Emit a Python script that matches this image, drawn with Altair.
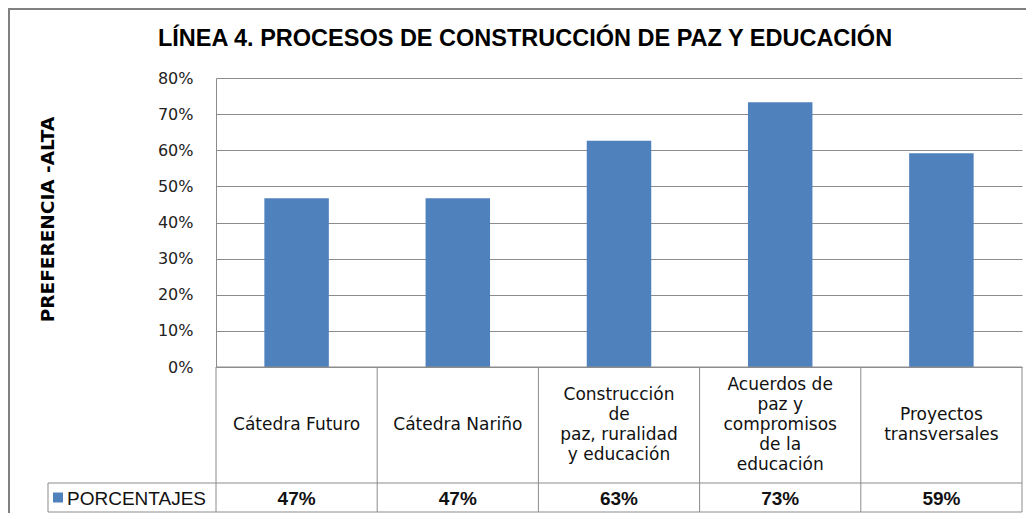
import altair as alt
import pandas as pd

# ---- data ----
categories = [
    "Cátedra Futuro",
    "Cátedra Nariño",
    "Construcción de paz, ruralidad y educación",
    "Acuerdos de paz y compromisos de la educación",
    "Proyectos transversales",
]
cell_labels = [
    "Cátedra Futuro",
    "Cátedra Nariño",
    "Construcción|de|paz, ruralidad|y educación",
    "Acuerdos de|paz y|compromisos|de la|educación",
    "Proyectos|transversales",
]
values = [0.467, 0.467, 0.626, 0.733, 0.592]
value_labels = ["47%", "47%", "63%", "73%", "59%"]
y_ticks = [0.0, 0.1, 0.2, 0.3, 0.4, 0.5, 0.6, 0.7, 0.8]
series_name = "PORCENTAJES"
chart_title = "LÍNEA 4. PROCESOS DE CONSTRUCCIÓN DE PAZ Y EDUCACIÓN"
y_title = "PREFERENCIA -ALTA"

df = pd.DataFrame({"cat": categories, "cell": cell_labels,
                   "value": values, "vlabel": value_labels})
df["nlines"] = [len(s.split("|")) for s in cell_labels]
one = pd.DataFrame({"name": [series_name], "title": [chart_title], "ytitle": [y_title]})

BLUE = "#4f81bd"
LINE = "#8c8c8c"
W, H = 806, 289
ROW1_BOTTOM = 405   # bottom of category row (plot coordinates)
ROW2_BOTTOM = 434   # bottom of value row
LEFT_CELL = -168    # left edge of the legend cell
LH = 20             # line height of the category labels

xenc = alt.X("cat:N", sort=categories,
             scale=alt.Scale(paddingInner=0, paddingOuter=0), axis=None)

bars = alt.Chart(df).mark_bar(color=BLUE, width=alt.RelativeBandSize(0.4)).encode(
    x=xenc,
    y=alt.Y("value:Q", scale=alt.Scale(domain=[0, 0.8], nice=False),
            axis=alt.Axis(values=y_ticks, format=".0%", grid=True,
                          gridColor=LINE, gridWidth=1, domain=True,
                          domainColor=LINE, ticks=False, labelPadding=23,
                          labelFont="DejaVu Sans", labelFontSize=16,
                          labelColor="#222222", title=None)),
)

# vertical cell dividers at band starts
vrules = alt.Chart(df).mark_rule(color=LINE, strokeWidth=1).encode(
    x=alt.X("cat:N", sort=categories, bandPosition=0,
            scale=alt.Scale(paddingInner=0, paddingOuter=0), axis=None),
    y=alt.value(H), y2=alt.value(ROW2_BOTTOM),
)
right_rule = alt.Chart(one).mark_rule(color=LINE, strokeWidth=1).encode(
    x=alt.value(W), y=alt.value(H), y2=alt.value(ROW2_BOTTOM))
top_rule = alt.Chart(one).mark_rule(color=LINE, strokeWidth=1).encode(
    x=alt.value(0), x2=alt.value(W), y=alt.value(H))
mid_rule = alt.Chart(one).mark_rule(color=LINE, strokeWidth=1).encode(
    x=alt.value(LEFT_CELL), x2=alt.value(W), y=alt.value(ROW1_BOTTOM))
bot_rule = alt.Chart(one).mark_rule(color=LINE, strokeWidth=1).encode(
    x=alt.value(LEFT_CELL), x2=alt.value(W), y=alt.value(ROW2_BOTTOM))
left_rule = alt.Chart(one).mark_rule(color=LINE, strokeWidth=1).encode(
    x=alt.value(LEFT_CELL), y=alt.value(ROW1_BOTTOM), y2=alt.value(ROW2_BOTTOM))

# category labels, vertically centred in their cell (one layer per line count)
cat_layers = []
for n in sorted(set(df["nlines"])):
    cat_layers.append(
        alt.Chart(df).transform_filter(alt.datum.nlines == n).mark_text(
            lineBreak="|", align="center", baseline="middle", font="DejaVu Sans",
            fontSize=17, lineHeight=LH, color="#111111", dy=-(n - 1) * LH / 2,
        ).encode(x=xenc, y=alt.value((H + ROW1_BOTTOM) / 2), text="cell:N")
    )

val_text = alt.Chart(df).mark_text(
    align="center", baseline="middle", font="Liberation Sans",
    fontSize=19, fontWeight="bold", color="#111111",
).encode(x=xenc, y=alt.value((ROW1_BOTTOM + ROW2_BOTTOM) / 2 + 1), text="vlabel:N")

legend_sq = alt.Chart(one).mark_square(size=100, color=BLUE, opacity=1).encode(
    x=alt.value(-158), y=alt.value((ROW1_BOTTOM + ROW2_BOTTOM) / 2))
legend_txt = alt.Chart(one).mark_text(
    align="left", baseline="middle", font="Liberation Sans", fontSize=19,
    color="#111111",
).encode(x=alt.value(-149), y=alt.value((ROW1_BOTTOM + ROW2_BOTTOM) / 2 + 1), text="name:N")

title_txt = alt.Chart(one).mark_text(
    align="center", baseline="middle", font="Liberation Sans", fontSize=23.5,
    fontWeight="bold", color="#000000",
).encode(x=alt.value(309), y=alt.value(-39), text="title:N")

ytitle_txt = alt.Chart(one).mark_text(
    align="center", baseline="middle", font="DejaVu Sans", fontSize=18.5,
    fontWeight="bold", angle=270, color="#000000",
).encode(x=alt.value(-168), y=alt.value(141.5), text="ytitle:N")

frame = alt.Chart(one).mark_rect(filled=False, stroke="#808080", strokeWidth=2).encode(
    x=alt.value(-207), y=alt.value(-69), x2=alt.value(1000), y2=alt.value(700))

chart = alt.layer(
    frame, bars, vrules, right_rule, top_rule, mid_rule, bot_rule, left_rule,
    *cat_layers, val_text, legend_sq, legend_txt, title_txt, ytitle_txt,
).properties(
    width=W, height=H,
    autosize=alt.AutoSizeParams(type="none"),
    padding={"left": 208, "top": 70, "right": 4, "bottom": 146},
    background="white",
).configure_view(stroke=None)

chart.save("out.html", embed_options={"renderer": "svg", "actions": False})
